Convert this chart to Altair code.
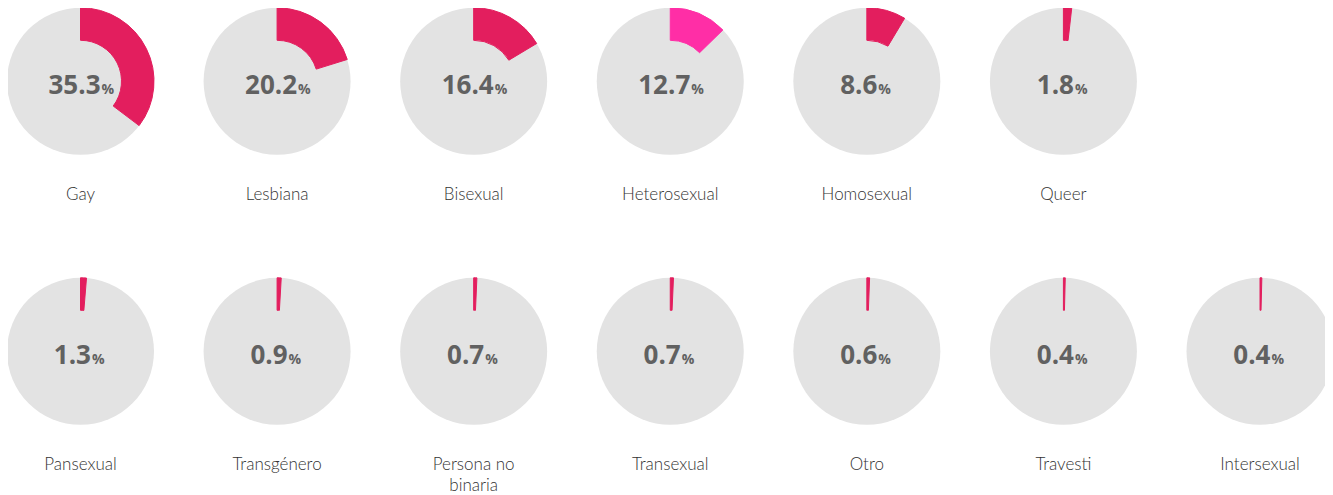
import altair as alt
import pandas as pd

labels = ["Gay", "Lesbiana", "Bisexual", "Heterosexual", "Homosexual", "Queer",
          "Pansexual", "Transgénero", "Persona no\nbinaria", "Transexual", "Otro",
          "Travesti", "Intersexual"]
values = [35.3, 20.2, 16.4, 12.7, 8.6, 1.8, 1.3, 0.9, 0.7, 0.7, 0.6, 0.4, 0.4]
rows = [0, 0, 0, 0, 0, 0, 1, 1, 1, 1, 1, 1, 1]
cols = [0, 1, 2, 3, 4, 5, 0, 1, 2, 3, 4, 5, 6]

df = pd.DataFrame({"label": labels, "value": values, "row": rows, "col": cols})

PINK = "#e31e5e"
HOT = "#ff2ea6"
GRAY = "#e3e3e3"
NUM = "#616161"

xs = alt.X("col:Q", scale=alt.Scale(domain=[0, 6], range=[72.5, 1252]), axis=None)
ys = alt.Y("row:Q", scale=alt.Scale(domain=[0, 1], range=[73.3, 343.3]), axis=None)

base = alt.Chart(df).encode(x=xs, y=ys)

bg = base.mark_arc(radius=73.5, color=GRAY).transform_calculate(
    t0="0", t1="2*PI"
).encode(
    theta=alt.Theta("t0:Q", scale=None, stack=False),
    theta2="t1:Q",
)

wedge = base.mark_arc(radius=73.5, radius2=41, strokeWidth=1).transform_calculate(
    t0="0", t1="datum.value/100*2*PI"
).encode(
    theta=alt.Theta("t0:Q", scale=None, stack=False),
    theta2="t1:Q",
    color=alt.condition("datum.label == 'Heterosexual'", alt.value(HOT), alt.value(PINK)),
    stroke=alt.condition("datum.label == 'Heterosexual'", alt.value(HOT), alt.value(PINK)),
)

def num_layers(cond, off):
    n = base.transform_filter(cond).mark_text(
        font="Open Sans", fontWeight="bold", fontSize=26, color=NUM,
        align="right", baseline="alphabetic", dx=off, dy=13
    ).encode(text=alt.Text("value:Q", format=".1f"))
    p = base.transform_filter(cond).mark_text(
        font="Open Sans", fontWeight="bold", fontSize=14, color=NUM,
        align="left", baseline="alphabetic", dx=off + 1, dy=13, text="%"
    )
    return [n, p]

big = num_layers("datum.value >= 10", 20)
small = num_layers("datum.value < 10", 10.5)

lab = base.mark_text(
    font="Lato", fontWeight=300, fontSize=17, color="#333333", align="center",
    baseline="alphabetic", dy=119, lineBreak="\n", lineHeight=21
).encode(text="label:N")

chart = alt.layer(bg, wedge, *big, *small, lab).properties(
    width=1317, height=487, autosize=alt.AutoSizeParams(type="none"), padding=0
).configure_view(stroke=None)

chart.save("out.html", embed_options={"renderer": "svg", "actions": False})
